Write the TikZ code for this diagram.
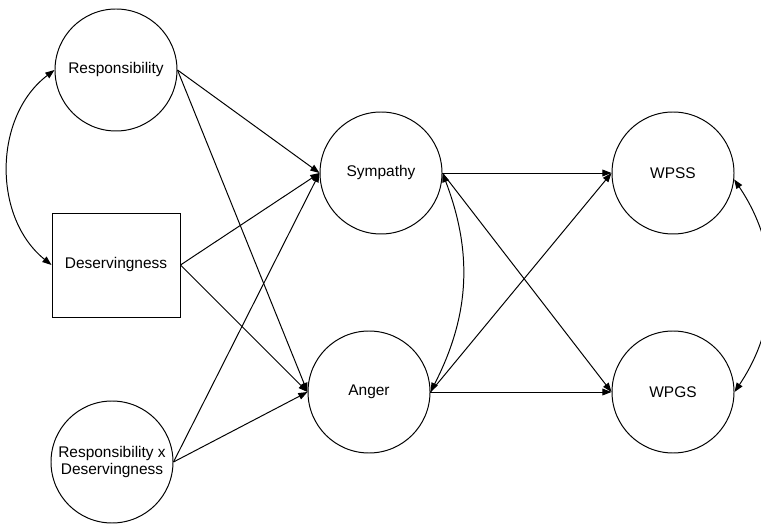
\documentclass[tikz,border=0pt]{standalone}
\usepackage{fontspec}
\setmainfont{Liberation Sans}
\usepackage{tikz}
\usetikzlibrary{positioning,arrows.meta,shapes.geometric}
\tikzset{
  latent/.style   = {circle, draw=black, fill=white, line width=0.7pt, minimum size=30.5mm,
                     inner sep=0pt, align=center, font=\fontsize{11}{12.8}\selectfont},
  observed/.style = {rectangle, draw=black, fill=white, line width=0.7pt, minimum width=32mm,
                     minimum height=26mm, align=center, font=\fontsize{11}{12.8}\selectfont},
  path/.style     = {-{Triangle[length=2.3mm,width=1.7mm]}, line width=0.7pt},
  covar/.style    = {{Triangle[length=2.3mm,width=1.7mm]}-{Triangle[length=2.3mm,width=1.7mm]},
                     line width=0.7pt},
}
\begin{document}
\begin{tikzpicture}
  \useasboundingbox (0,0) rectangle (19.025,-13.175);
  \node[latent] (resp) at (2.9,-1.75) {Responsibility};
  \node[observed] (des) at (2.9,-6.625) {Deservingness};
  \node[latent] (rxd) at (2.8,-11.55) {Responsibility x\\Deservingness};
  \node[latent] (sym) at (9.525,-4.325) {Sympathy};
  \node[latent] (ang) at (9.225,-9.8) {Anger};
  \node[latent] (wpss) at (16.825,-4.325) {WPSS};
  \node[latent] (wpgs) at (16.825,-9.8) {WPGS};
  \draw[covar] (resp.west) to[bend right=52] (des.west);
  \draw[path] (resp.east) -- (sym.west);
  \draw[path] (resp.east) -- (ang.west);
  \draw[path] (des.east) -- (sym.west);
  \draw[path] (des.east) -- (ang.west);
  \draw[path] (rxd.east) -- (sym.west);
  \draw[path] (rxd.east) -- (ang.west);
  \draw[covar] (sym.east) to[bend left=24] (ang.east);
  \draw[path] (sym.east) -- (wpss.west);
  \draw[path] (sym.east) -- (wpgs.west);
  \draw[path] (ang.east) -- (wpss.west);
  \draw[path] (ang.east) -- (wpgs.west);
  \draw[covar] (wpss.-6) to[bend left=34] (wpgs.east);
\end{tikzpicture}
\end{document}
